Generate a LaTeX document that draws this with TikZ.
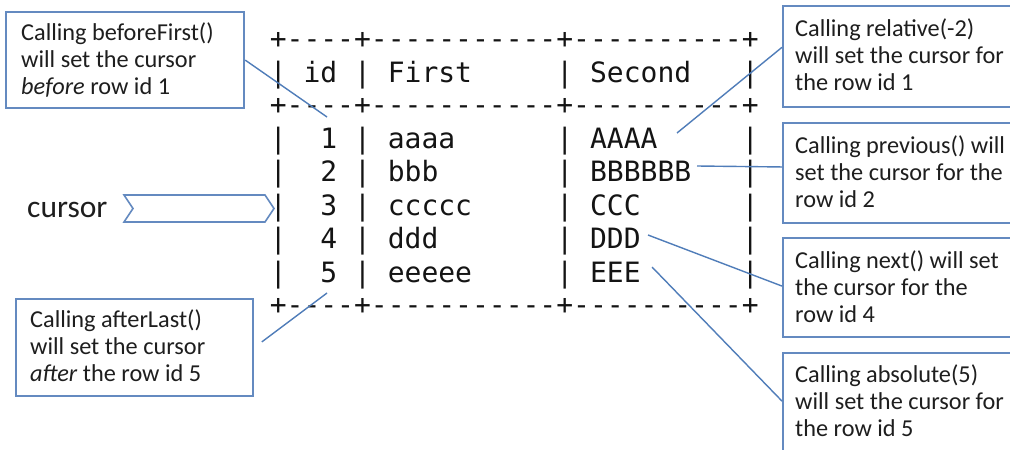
\documentclass[tikz,border=0pt]{standalone}
\usepackage{fontspec}
\setmainfont{Carlito}
\setmonofont{DejaVu Sans Mono}
\usetikzlibrary{calc}
\definecolor{boxblue}{RGB}{100,138,192}
\definecolor{lineblue}{RGB}{80,125,185}
\definecolor{txtgray}{RGB}{30,30,30}
\begin{document}
\begin{tikzpicture}[x=1pt,y=-1pt,
  callout/.style={draw=boxblue, line width=2.2pt, anchor=north west, inner sep=0pt, minimum width=#1},
  callout/.default=238pt,
  ctext/.style={anchor=base west, inner sep=0pt, text=txtgray, font=\fontsize{24.3}{27}\selectfont},
  conn/.style={draw=lineblue, line width=1.4pt},
  mono/.style={anchor=base west, inner sep=0pt, text=black!92, font=\ttfamily\fontsize{28}{33}\selectfont},
  chev/.style={draw=boxblue, line width=1.6pt, line join=miter}
]
\useasboundingbox (0,0) rectangle (1010,450);
\clip (0,0) rectangle (1010,450);
\fill[white] (0,0) rectangle (1010,450);

% ASCII table
\node[mono] (t0) at (269.6,48.5) {+----+-----------+----------+};
\node[mono] (t1) at (269.6,82)   {|~id~|~First~~~~~|~Second~~~|};
\node[mono] (t2) at (269.6,114.5){+----+-----------+----------+};
\node[mono] (t3) at (269.6,148)  {|~~1~|~aaaa~~~~~~|~AAAA~~~~~|};
\node[mono] (t4) at (269.6,181)  {|~~2~|~bbb~~~~~~~|~BBBBBB~~~|};
\node[mono] (t5) at (269.6,215)  {|~~3~|~ccccc~~~~~|~CCC~~~~~~|};
\node[mono] (t6) at (269.6,248)  {|~~4~|~ddd~~~~~~~|~DDD~~~~~~|};
\node[mono] (t7) at (269.6,282)  {|~~5~|~eeeee~~~~~|~EEE~~~~~~|};
\node[mono] (t8) at (269.6,314.5){+----+-----------+----------+};

% callout boxes
\node[callout, minimum height=96pt] (tl) at (5,11) {};
\node[ctext] (tltx) at (21,40) {\begin{tabular}[t]{@{}l@{}}Calling beforeFirst()\\will set the cursor\\\textit{before} row id 1\end{tabular}};

\node[callout=237pt, minimum height=97pt] (bl) at (15,298) {};
\node[ctext] (bltx) at (30,327) {\begin{tabular}[t]{@{}l@{}}Calling afterLast()\\will set the cursor\\\textit{after} the row id 5\end{tabular}};

\node[callout=250pt, minimum height=101pt] (r1) at (782,5) {};
\node[ctext] (r1tx) at (795,36) {\begin{tabular}[t]{@{}l@{}}Calling relative(-2)\\will set the cursor for\\the row id 1\end{tabular}};

\node[callout=250pt, minimum height=100pt] (r2) at (782,122) {};
\node[ctext] (r2tx) at (795,153) {\begin{tabular}[t]{@{}l@{}}Calling previous() will\\set the cursor for the\\row id 2\end{tabular}};

\node[callout=250pt, minimum height=99pt] (r3) at (782,237) {};
\node[ctext] (r3tx) at (795,268) {\begin{tabular}[t]{@{}l@{}}Calling next() will set\\the cursor for the\\row id 4\end{tabular}};

\node[callout=250pt, minimum height=98pt] (r4) at (782,352) {};
\node[ctext] (r4tx) at (795,382) {\begin{tabular}[t]{@{}l@{}}Calling absolute(5)\\will set the cursor for\\the row id 5\end{tabular}};

% cursor label and chevron
\node[anchor=base west, inner sep=0pt, text=txtgray, font=\fontsize{31.5}{36}\selectfont] (cur) at (27,217) {cursor};
\draw[chev] (124,195) -- (265,195) -- (274,208.5) -- (265,222) -- (124,222) -- (133,208.5) -- cycle;

% connector end points in the table
\coordinate (p1) at (327,117);
\coordinate (pA) at (677,133);
\coordinate (pB) at (697,166);
\coordinate (pD) at (648,235);
\coordinate (pE) at (652,267);
\coordinate (p5) at (327,293);

% connectors
\draw[conn] (tl.east) -- (p1);
\draw[conn] (pA) -- ($(r1.north west)!0.41!(r1.south west)$);
\draw[conn] (pB) -- ($(r2.north west)!0.44!(r2.south west)$);
\draw[conn] (pD) -- ($(r3.north west)!0.485!(r3.south west)$);
\draw[conn] (pE) -- ($(r4.north west)!0.49!(r4.south west)$);
\draw[conn, shorten <=9.5pt] (bl.east) -- (p5);
\end{tikzpicture}
\end{document}
